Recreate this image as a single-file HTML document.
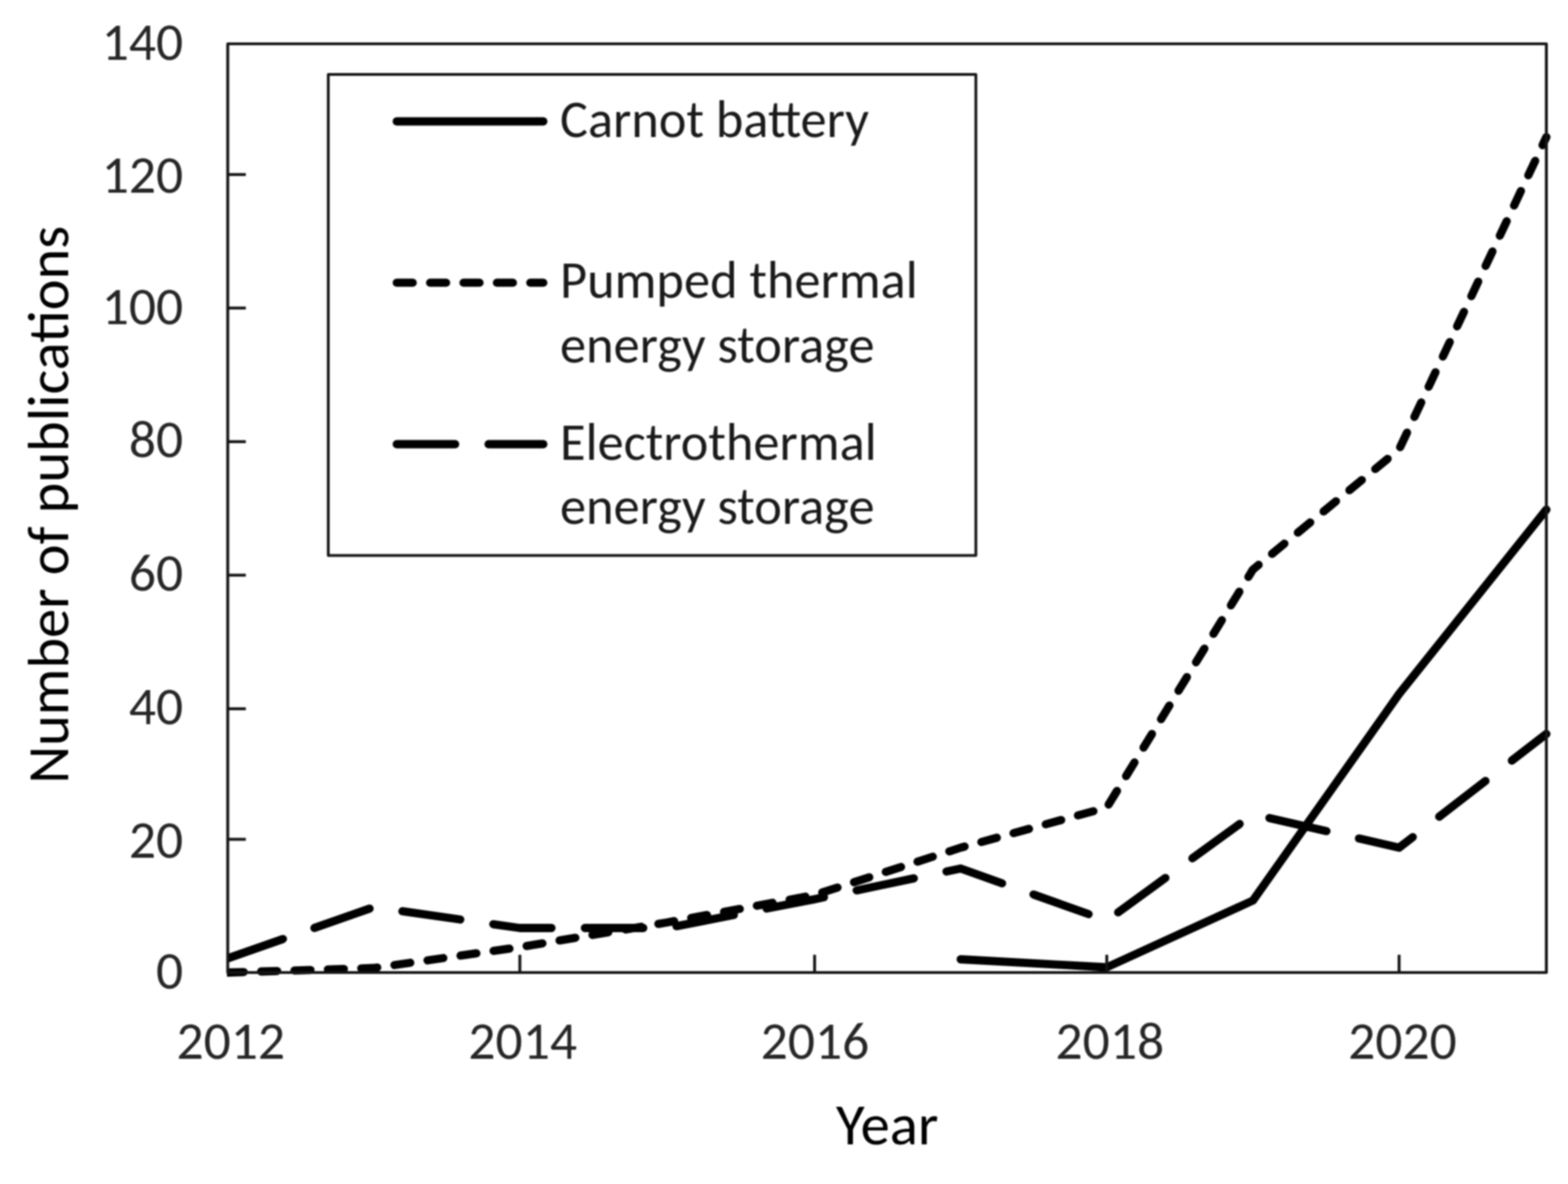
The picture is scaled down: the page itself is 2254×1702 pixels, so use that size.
<!DOCTYPE html>
<html lang="en"><head><meta charset="utf-8"><title>Number of publications per year: Carnot battery, pumped thermal and electrothermal energy storage</title>
<style>
html,body{margin:0;padding:0;background:#fff;}
body{width:2254px;height:1702px;overflow:hidden;}
svg{display:block;}
text{font-size-adjust:0.4775;font-family:"Carlito", "Liberation Sans", "DejaVu Sans", sans-serif;}
</style></head>
<body>
<svg width="2254" height="1702" viewBox="0 0 2254 1702">
<defs>
<clipPath id="pc"><rect x="326.2" y="0" width="1928" height="1702"/></clipPath>
<filter id="soft" x="0" y="0" width="1" height="1" color-interpolation-filters="sRGB"><feGaussianBlur stdDeviation="0.9"/></filter>
</defs>
<g filter="url(#soft)">
<rect x="0" y="0" width="2254" height="1702" fill="#fff"/>
<g clip-path="url(#pc)" fill="none" stroke="#000" stroke-width="11.8" stroke-linecap="round" stroke-linejoin="round">
<polyline points="327.4,1377.6 537.4,1304.0 747.3,1334.0 959.1,1334.0 1171.0,1292.6 1381.0,1248.5 1591.0,1323.4 1801.1,1170.5 2011.2,1218.5 2222.9,1055.0" stroke-dasharray="84 48"/>
<polyline points="327.4,1398.0 537.4,1391.5 747.3,1361.5 959.1,1326.0 1171.0,1286.5 1381.0,1218.5 1591.0,1160.8 1801.1,818.7 2011.2,646.0 2222.9,197.0" stroke-dasharray="23 25"/>
<polyline points="1381.0,1379.0 1591.0,1390.5 1801.1,1294.5 2011.2,997.5 2222.9,732.5"/>
</g>
<g fill="none" stroke="#151515" stroke-width="4.2" stroke-linejoin="round">
<rect x="327.4" y="63.0" width="1895.5" height="1335.0"/>
<line x1="327.4" y1="1206.5" x2="353.4" y2="1206.5"/>
<line x1="327.4" y1="1018.85" x2="353.4" y2="1018.85"/>
<line x1="327.4" y1="826.8" x2="353.4" y2="826.8"/>
<line x1="327.4" y1="634.9" x2="353.4" y2="634.9"/>
<line x1="327.4" y1="442.8" x2="353.4" y2="442.8"/>
<line x1="327.4" y1="250.9" x2="353.4" y2="250.9"/>
<line x1="747.3" y1="1398.0" x2="747.3" y2="1372.5"/>
<line x1="1171.0" y1="1398.0" x2="1171.0" y2="1372.5"/>
<line x1="1591.0" y1="1398.0" x2="1591.0" y2="1372.5"/>
<line x1="2011.2" y1="1398.0" x2="2011.2" y2="1372.5"/>
</g>
<g font-size="77" fill="#262626">
<text x="263.3" y="1421.0" text-anchor="end" textLength="39.03" lengthAdjust="spacingAndGlyphs">0</text>
<text x="263.3" y="1233.0" text-anchor="end" textLength="78.06" lengthAdjust="spacingAndGlyphs">20</text>
<text x="263.3" y="1040.5" text-anchor="end" textLength="78.06" lengthAdjust="spacingAndGlyphs">40</text>
<text x="263.3" y="849.2" text-anchor="end" textLength="78.06" lengthAdjust="spacingAndGlyphs">60</text>
<text x="263.3" y="657.2" text-anchor="end" textLength="78.06" lengthAdjust="spacingAndGlyphs">80</text>
<text x="263.3" y="465.6" text-anchor="end" textLength="117.09" lengthAdjust="spacingAndGlyphs">100</text>
<text x="263.3" y="277.1" text-anchor="end" textLength="117.09" lengthAdjust="spacingAndGlyphs">120</text>
<text x="263.3" y="85.5" text-anchor="end" textLength="117.09" lengthAdjust="spacingAndGlyphs">140</text>
<text x="331.7" y="1521.6" text-anchor="middle" textLength="156.11" lengthAdjust="spacingAndGlyphs">2012</text>
<text x="751.4" y="1521.6" text-anchor="middle" textLength="156.11" lengthAdjust="spacingAndGlyphs">2014</text>
<text x="1171.6" y="1521.6" text-anchor="middle" textLength="156.11" lengthAdjust="spacingAndGlyphs">2016</text>
<text x="1595.4" y="1521.6" text-anchor="middle" textLength="156.11" lengthAdjust="spacingAndGlyphs">2018</text>
<text x="2016.1" y="1521.6" text-anchor="middle" textLength="156.11" lengthAdjust="spacingAndGlyphs">2020</text>
</g>
<text x="1275.4" y="1644.8" text-anchor="middle" font-size="84.5" fill="#000" textLength="147.09" lengthAdjust="spacingAndGlyphs">Year</text>
<text transform="translate(97.6 725.6) rotate(-90)" x="0" y="0" text-anchor="middle" font-size="84" fill="#000" textLength="801.91" lengthAdjust="spacingAndGlyphs">Number of publications</text>
<rect x="471.9" y="106.9" width="930.9" height="691.6" fill="#fff" stroke="#151515" stroke-width="4.0" stroke-linejoin="round"/>
<g stroke="#000" stroke-width="11.8" stroke-linecap="round">
<line x1="570.3" y1="174.5" x2="781.0" y2="174.5"/>
<line x1="570.3" y1="406.3" x2="781.0" y2="406.3" stroke-dasharray="23 25"/>
<line x1="570.3" y1="638.5" x2="781.0" y2="638.5" stroke-dasharray="84 48"/>
</g>
<g font-size="75.3" fill="#1a1a1a">
<text x="805.0" y="196.9" textLength="444.03" lengthAdjust="spacingAndGlyphs">Carnot battery</text>
<text x="805.0" y="428.4" textLength="514.22" lengthAdjust="spacingAndGlyphs">Pumped thermal</text>
<text x="805.0" y="520.8" textLength="452.12" lengthAdjust="spacingAndGlyphs">energy storage</text>
<text x="805.0" y="660.5" textLength="455.31" lengthAdjust="spacingAndGlyphs">Electrothermal</text>
<text x="805.0" y="752.9" textLength="452.12" lengthAdjust="spacingAndGlyphs">energy storage</text>
</g>
</g>
</svg>
</body></html>
